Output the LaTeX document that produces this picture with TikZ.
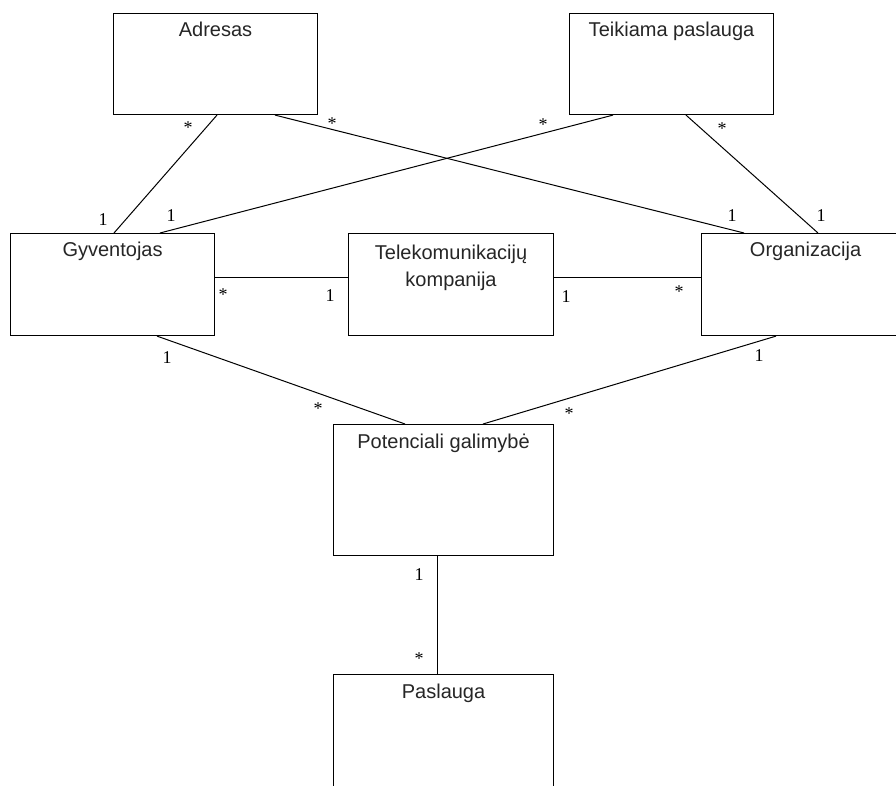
\documentclass[tikz,border=0pt]{standalone}
\usepackage{fontspec}
\newfontfamily\boxfont{Liberation Sans}
\newfontfamily\multfont{Liberation Serif}
\begin{document}
\begin{tikzpicture}[x=1pt,y=-1pt,
  classbox/.style={draw=black, line width=1.1pt, fill=white, inner sep=0pt, anchor=north west},
  boxtitle/.style={font=\boxfont\fontsize{20}{24}\selectfont, inner sep=0pt, anchor=base, text=black!85},
  assoc/.style={draw=black, line width=1pt},
  mult/.style={font=\multfont\fontsize{18}{21}\selectfont, inner sep=0pt}
]
\useasboundingbox (0,0) rectangle (896,786);
\fill[white] (0,0) rectangle (896,786);
\clip (0,0) rectangle (896,786);

% classes
\node[classbox, minimum width=204pt, minimum height=101pt] (adr) at (113,13) {};
\node[classbox, minimum width=204pt, minimum height=101pt] (tei) at (569,13) {};
\node[classbox, minimum width=204pt, minimum height=102pt] (gyv) at (10,233) {};
\node[classbox, minimum width=205pt, minimum height=102pt] (tel) at (348,233) {};
\node[classbox, minimum width=208pt, minimum height=102pt] (org) at (701,233) {};
\node[classbox, minimum width=220pt, minimum height=131pt] (pot) at (333,424) {};
\node[classbox, minimum width=220pt, minimum height=131pt] (pas) at (333,674) {};

% class names
\node[boxtitle] (adr-t) at ([yshift=-24pt]adr.north) {Adresas};
\node[boxtitle] (tei-t) at ([yshift=-24pt]tei.north) {Teikiama paslauga};
\node[boxtitle] (gyv-t) at ([yshift=-24pt]gyv.north) {Gyventojas};
\node[boxtitle] (tel-t1) at ([yshift=-26pt]tel.north) {Telekomunikacijų};
\node[boxtitle] (tel-t2) at ([yshift=-53pt]tel.north) {kompanija};
\node[boxtitle] (org-t) at ([yshift=-24pt]org.north) {Organizacija};
\node[boxtitle] (pot-t) at ([yshift=-24pt]pot.north) {Potenciali galimybė};
\node[boxtitle] (pas-t) at ([yshift=-24pt]pas.north) {Paslauga};

% associations
\draw[assoc] ([xshift=104pt]adr.south west) -- ([xshift=104pt]gyv.north west);
\draw[assoc] ([xshift=162pt]adr.south west) -- ([xshift=43pt]org.north west);
\draw[assoc] ([xshift=44pt]tei.south west) -- ([xshift=150pt]gyv.north west);
\draw[assoc] ([xshift=117pt]tei.south west) -- ([xshift=117pt]org.north west);
\draw[assoc] ([yshift=7pt]gyv.east) -- ([yshift=7pt]tel.west);
\draw[assoc] ([yshift=7pt]tel.east) -- ([yshift=7pt]org.west);
\draw[assoc] ([xshift=147pt]gyv.south west) -- ([xshift=72pt]pot.north west);
\draw[assoc] ([xshift=75pt]org.south west) -- ([xshift=150pt]pot.north west);
\draw[assoc] ([xshift=104pt]pot.south west) -- ([xshift=104pt]pas.north west);

% multiplicities
\node[mult] (m1) at (188,128) {*};
\node[mult] (m2) at (103,220) {1};
\node[mult] (m3) at (332,124) {*};
\node[mult] (m4) at (732,216) {1};
\node[mult] (m5) at (543,125) {*};
\node[mult] (m6) at (171,216) {1};
\node[mult] (m7) at (722,129) {*};
\node[mult] (m8) at (821,216) {1};
\node[mult] (m9) at (223,295) {*};
\node[mult] (m10) at (330,296) {1};
\node[mult] (m11) at (566,297) {1};
\node[mult] (m12) at (679,292) {*};
\node[mult] (m13) at (167,358) {1};
\node[mult] (m14) at (318,409) {*};
\node[mult] (m15) at (759,356) {1};
\node[mult] (m16) at (569,414) {*};
\node[mult] (m17) at (419,575) {1};
\node[mult] (m18) at (419,659) {*};
\end{tikzpicture}
\end{document}
